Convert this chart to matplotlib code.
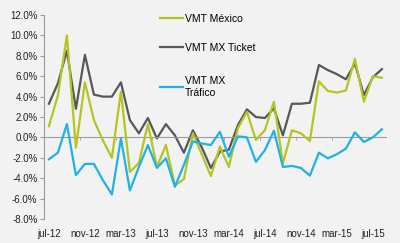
import matplotlib
matplotlib.use("Agg")
import matplotlib.pyplot as plt
from matplotlib.ticker import FuncFormatter

plt.rcParams['font.family'] = ['Liberation Sans', 'DejaVu Sans']

# meses jul-12 .. ago-15
meses = ['jul-12', 'ago-12', 'sep-12', 'oct-12', 'nov-12', 'dic-12',
         'ene-13', 'feb-13', 'mar-13', 'abr-13', 'may-13', 'jun-13',
         'jul-13', 'ago-13', 'sep-13', 'oct-13', 'nov-13', 'dic-13',
         'ene-14', 'feb-14', 'mar-14', 'abr-14', 'may-14', 'jun-14',
         'jul-14', 'ago-14', 'sep-14', 'oct-14', 'nov-14', 'dic-14',
         'ene-15', 'feb-15', 'mar-15', 'abr-15', 'may-15', 'jun-15',
         'jul-15', 'ago-15']

vmt_mexico = [1.1, 4.1, 10.0, -1.0, 5.4, 1.7, -0.3, -2.0, 4.5, -3.4,
              -2.5, 1.3, -2.9, -0.75, -4.7, -4.1, 0.4, -1.7, -3.8, -0.9,
              -2.9, 0.9, 2.5, -0.25, 0.7, 3.5, -2.55, 0.7, 0.4, -0.35,
              5.5, 4.55, 4.4, 4.6, 7.7, 3.5, 6.0, 5.85]

vmt_ticket = [3.3, 5.3, 8.5, 2.8, 8.1, 4.2, 4.0, 4.0, 5.4, 1.7,
              0.4, 1.9, -0.1, 1.3, 0.2, -1.5, 0.7, -1.0, -3.0, -1.4,
              -1.2, 1.2, 2.75, 2.0, 1.9, 2.85, 0.2, 3.3, 3.3, 3.4,
              7.1, 6.6, 6.2, 5.7, 7.25, 4.15, 5.9, 6.7]

vmt_trafico = [-2.15, -1.5, 1.3, -3.7, -2.6, -2.6, -4.2, -5.6, -0.1, -5.2,
               -2.9, -0.75, -3.0, -2.05, -4.85, -2.7, -0.4, -0.6, -0.75, 0.55,
               -1.9, 0.1, 0.0, -2.4, -1.25, 0.65, -2.9, -2.8, -3.0, -3.75,
               -1.5, -2.05, -1.65, -1.1, 0.5, -0.45, 0.0, 0.8]

etiquetas = ['VMT México', 'VMT MX Ticket', 'VMT MX\nTráfico']
colores = ['#b5c422', '#575757', '#1fb2e3']

fondo = '#f2f2f2'
fig = plt.figure(figsize=(4.0, 2.43), dpi=100, facecolor=fondo)
ax = fig.add_axes([0.111, 0.099, 0.855, 0.839], facecolor=fondo)

x = list(range(len(meses)))
l1, = ax.plot(x, vmt_mexico, color=colores[0], lw=1.6, label=etiquetas[0], zorder=3)
l2, = ax.plot(x, vmt_ticket, color=colores[1], lw=1.6, label=etiquetas[1], zorder=2)
l3, = ax.plot(x, vmt_trafico, color=colores[2], lw=1.6, label=etiquetas[2], zorder=4)

ax.set_xlim(-0.5, len(meses) - 0.5)
ax.set_ylim(-8, 12)
ax.set_yticks(range(-8, 13, 2))
ax.yaxis.set_major_formatter(FuncFormatter(lambda v, p: '%.1f%%' % v))

# eje de categorias en 0, etiquetas abajo
ax.spines['bottom'].set_position(('data', 0))
ax.spines['bottom'].set_color('#9a9a9a')
ax.spines['bottom'].set_linewidth(0.8)
ax.spines['left'].set_color('#9a9a9a')
ax.spines['left'].set_linewidth(0.8)
ax.spines['top'].set_visible(False)
ax.spines['right'].set_visible(False)

ax.set_xticks(x[::4])
ax.set_xticklabels(meses[::4])
ax.set_xticks([i + 3.5 for i in x[::4] if i + 3.5 < len(meses)], minor=True)
ax.tick_params(axis='x', which='major', length=0, pad=66, labelsize=7, colors='#222222')
ax.tick_params(axis='x', which='minor', length=2.5, color='#9a9a9a')
ax.tick_params(axis='y', length=3, color='#9a9a9a', labelsize=7, labelcolor='#222222', pad=2)

opts = dict(loc='upper left', bbox_transform=fig.transFigure, frameon=False,
            fontsize=7.5, handlelength=2.2, handletextpad=0.2,
            labelspacing=1.8, borderpad=0, borderaxespad=0)
leg1 = ax.legend(handles=[l1, l2], bbox_to_anchor=(0.4, 0.942), **opts)
ax.add_artist(leg1)
leg2 = ax.legend(handles=[l3], bbox_to_anchor=(0.4, 0.686), **opts)

fig.savefig('out.png', dpi=100, facecolor=fondo)
